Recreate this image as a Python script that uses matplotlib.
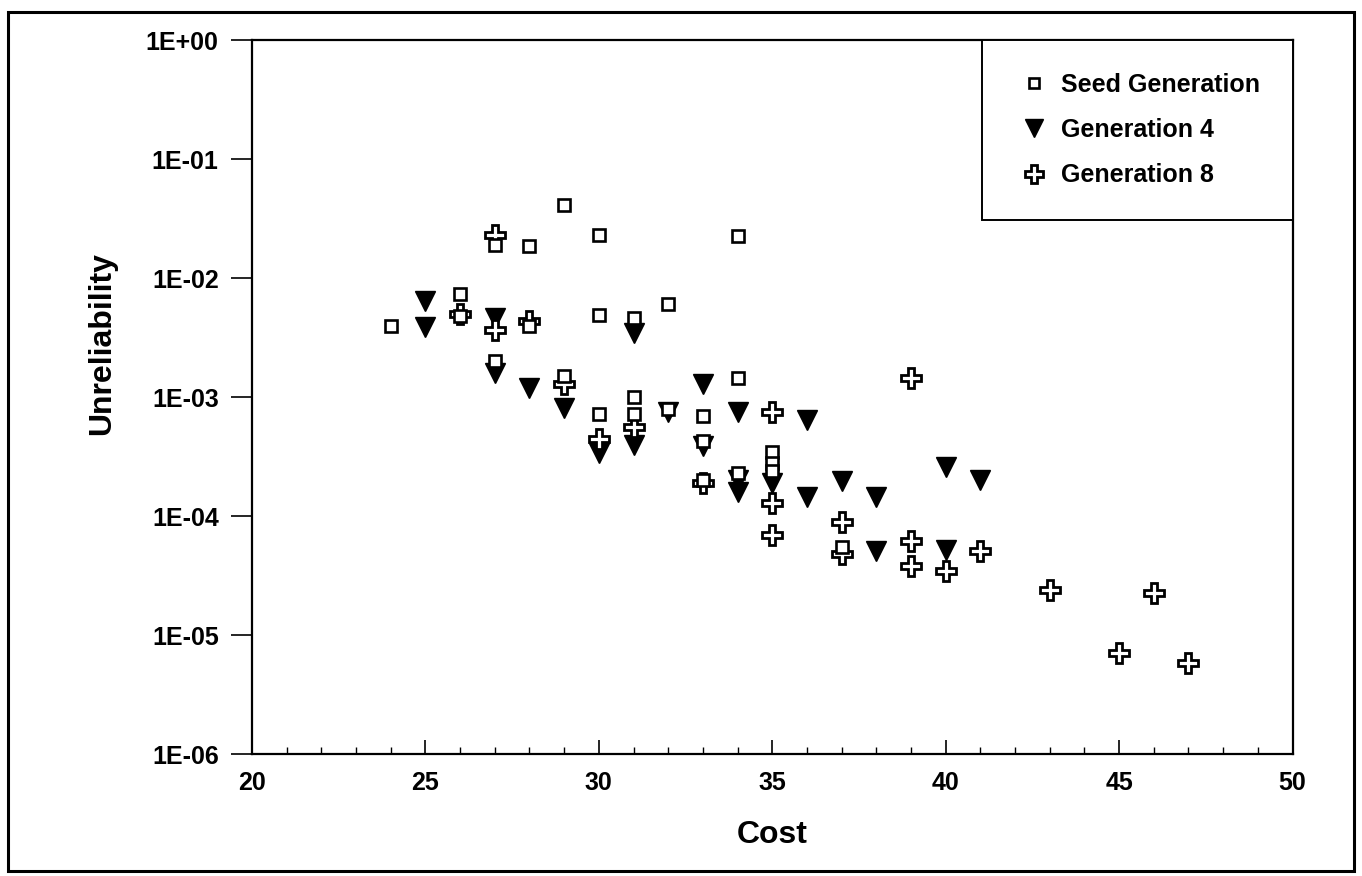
import numpy as np
import matplotlib
matplotlib.use("Agg")
import matplotlib.pyplot as plt
from matplotlib.ticker import FixedLocator, MultipleLocator, FuncFormatter
from matplotlib.patches import Rectangle

plt.rcParams['font.family'] = ['Liberation Sans', 'DejaVu Sans']
plt.rcParams['font.weight'] = 'bold'

# Seed generation (hollow squares)
seed_cost = [24, 26, 26, 27, 27, 28, 28, 29, 29, 30, 30, 30,
             31, 31, 31, 32, 32, 33, 33, 33, 34, 34, 34, 35, 35, 35, 37]
seed_unrel = [4.0e-3, 7.4e-3, 4.8e-3, 1.9e-2, 2.0e-3, 1.87e-2, 4.0e-3, 4.1e-2, 1.5e-3,
              2.3e-2, 4.9e-3, 7.3e-4, 4.6e-3, 1.0e-3, 7.2e-4, 6.1e-3, 7.9e-4,
              7.0e-4, 4.3e-4, 2.0e-4, 2.27e-2, 1.44e-3, 2.3e-4,
              3.5e-4, 2.8e-4, 2.4e-4, 5.5e-5]

# Generation 4 (filled down triangles)
gen4_cost = [25, 25, 27, 27, 28, 29, 30, 31, 31, 32, 33, 33,
             34, 34, 34, 35, 36, 36, 37, 38, 38, 40, 40, 41]
gen4_unrel = [6.5e-3, 3.9e-3, 4.6e-3, 1.6e-3, 1.2e-3, 8.2e-4, 3.4e-4, 3.5e-3, 4.0e-4,
              7.5e-4, 1.29e-3, 3.9e-4, 7.5e-4, 2.0e-4, 1.6e-4, 1.9e-4,
              6.5e-4, 1.46e-4, 1.97e-4, 1.46e-4, 5.1e-5, 2.6e-4, 5.2e-5, 2.0e-4]

# Generation 8 (hollow crosses)
gen8_cost = [26, 27, 27, 28, 29, 30, 31, 33, 35, 35, 35, 37, 37,
             39, 39, 39, 40, 41, 43, 45, 46, 47]
gen8_unrel = [5.0e-3, 2.3e-2, 3.7e-3, 4.4e-3, 1.3e-3, 4.5e-4, 5.6e-4, 1.9e-4,
              7.5e-4, 1.3e-4, 6.9e-5, 8.9e-5, 4.8e-5, 1.46e-3, 6.2e-5, 3.8e-5,
              3.5e-5, 5.1e-5, 2.4e-5, 7.1e-6, 2.27e-5, 5.9e-6]

fig = plt.figure(figsize=(13.62, 8.76), dpi=100)
ax = fig.add_axes([0.185, 0.139, 0.764, 0.815])

ax.plot(gen4_cost, gen4_unrel, linestyle='none', marker='v', markersize=15,
        color='black', label='Generation 4', zorder=3)
ax.plot(gen8_cost, gen8_unrel, linestyle='none', marker='P', markersize=15,
        markerfacecolor='white', markeredgecolor='black', markeredgewidth=2.0,
        label='Generation 8', zorder=4)
ax.plot(seed_cost, seed_unrel, linestyle='none', marker='s', markersize=9,
        markerfacecolor='white', markeredgecolor='black', markeredgewidth=1.9,
        label='Seed Generation', zorder=5)

ax.set_yscale('log')
ax.set_xlim(20, 50)
ax.set_ylim(1e-6, 1)

ax.yaxis.set_major_locator(FixedLocator([10.0 ** k for k in range(-6, 1)]))
ax.yaxis.set_minor_locator(FixedLocator([]))


def efmt(v, pos):
    k = int(round(np.log10(v)))
    if k >= 0:
        return "1E+%02d" % k
    return "1E-%02d" % (-k)


ax.yaxis.set_major_formatter(FuncFormatter(efmt))
ax.xaxis.set_major_locator(MultipleLocator(5))
ax.xaxis.set_minor_locator(MultipleLocator(1))

ax.tick_params(axis='y', which='major', direction='out', length=15, width=1.2,
               pad=9, labelsize=18)
ax.tick_params(axis='x', which='major', direction='in', length=10, width=1.2,
               pad=12, labelsize=18)
ax.tick_params(axis='x', which='minor', direction='in', length=5, width=1.0)

for sp in ax.spines.values():
    sp.set_linewidth(1.6)

ax.set_xlabel('Cost', fontsize=23, fontweight='bold', labelpad=18)
ax.set_ylabel('Unreliability', fontsize=23, fontweight='bold')
ax.yaxis.set_label_coords(-0.13, 0.575)

handles, labels = ax.get_legend_handles_labels()
order = [2, 0, 1]
leg = ax.legend([handles[i] for i in order], [labels[i] for i in order],
                loc='upper right', bbox_to_anchor=(1.0, 1.0), borderaxespad=0,
                fancybox=False, edgecolor='black', framealpha=1,
                prop={'size': 18, 'weight': 'bold'},
                handlelength=1.5, handletextpad=0.35, labelspacing=0.85,
                borderpad=1.3, markerscale=0.85)
leg.get_frame().set_linewidth(1.4)

# outer frame around the whole chart
fig.patches.append(Rectangle((0.006, 0.006), 0.988, 0.98, transform=fig.transFigure,
                             fill=False, edgecolor='black', linewidth=2.2))

fig.savefig('out.png', dpi=100)
